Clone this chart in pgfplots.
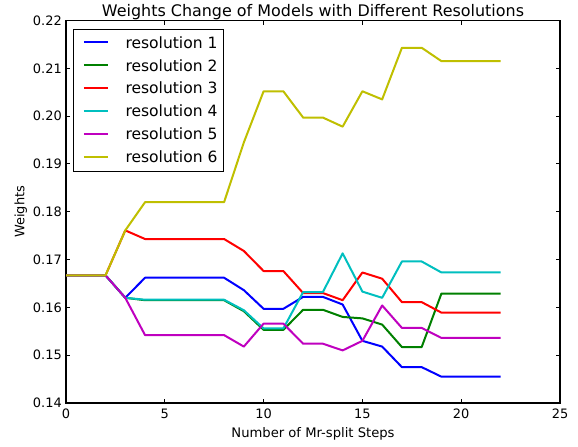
\documentclass[border=0pt]{standalone}
\usepackage{fontspec}
\setmainfont{DejaVu Sans}
\usepackage{pgfplots}
\pgfplotsset{compat=1.18}
\definecolor{mplb}{rgb}{0,0,1}
\definecolor{mplg}{rgb}{0,0.5,0}
\definecolor{mplr}{rgb}{1,0,0}
\definecolor{mplc}{rgb}{0,0.75,0.75}
\definecolor{mplm}{rgb}{0.75,0,0.75}
\definecolor{mply}{rgb}{0.75,0.75,0}
\begin{document}
\begin{tikzpicture}
\useasboundingbox (-66bp,-44bp) rectangle (512bp,403bp);
\begin{axis}[
  at={(0,0)}, anchor=south west,
  scale only axis, width=494bp, height=382.5bp,
  xmin=0, xmax=25, ymin=0.14, ymax=0.22,
  xtick={0,5,10,15,20,25},
  ytick={0.14,0.15,0.16,0.17,0.18,0.19,0.20,0.21,0.22},
  tick align=inside, tick pos=both,
  major tick length=4.4bp,
  every tick/.style={black, line width=1bp},
  axis line style={line width=1.1bp},
  /pgf/number format/assume math mode=true,
  yticklabel style={/pgf/number format/fixed, /pgf/number format/fixed zerofill, /pgf/number format/precision=2},
  tick label style={font=\fontsize{13}{15}\selectfont},
  xticklabel style={inner sep=0pt, anchor=north, yshift=-6bp},
  yticklabel style={inner sep=0pt, anchor=east, xshift=-4bp},
  scaled y ticks=false,
  every axis title shift=0pt,
  title={Weights Change of Models with Different Resolutions},
  title style={at={(axis description cs:0.5,1.01176)}, anchor=base, inner sep=0pt, font=\fontsize{16}{19}\selectfont},
  xlabel={Number of Mr-split Steps},
  xlabel style={at={(axis description cs:0.5,-0.0897)}, anchor=base, inner sep=0pt, font=\fontsize{13.2}{15}\selectfont},
  ylabel={Weights},
  ylabel style={at={(axis description cs:-0.0844,0.5)}, anchor=base, inner sep=0pt, font=\fontsize{13}{15}\selectfont},
  every axis plot/.append style={line width=2bp, line join=round},
  legend image code/.code={%
    \draw[#1] (0bp,6bp) -- (24.4bp,6bp);
    \path[draw=none,fill=none] (-6.85bp,-6.73bp) rectangle (38.55bp,16.13bp);},
  legend style={at={(axis description cs:0,1)}, anchor=north west,
    xshift=7.3bp, yshift=-8.8bp, draw=black, line width=1bp,
    inner xsep=3.15bp, inner ysep=2.27bp, row sep=0bp, column sep=0bp,
    font=\fontsize{15.6}{18}\selectfont,
    cells={anchor=base west},
    nodes={inner xsep=3.15bp, inner ysep=0bp}},
]
\addplot[mplb] coordinates {(0,0.1667)(1,0.1667)(2,0.1667)(3,0.1620)(4,0.1662)(5,0.1662)(6,0.1662)(7,0.1662)(8,0.1662)(9,0.1636)(10,0.1597)(11,0.1597)(12,0.1622)(13,0.1622)(14,0.1606)(15,0.1530)(16,0.1518)(17,0.1475)(18,0.1475)(19,0.1455)(20,0.1455)(21,0.1455)(22,0.1455)};
\addlegendentry{resolution 1}
\addplot[mplg] coordinates {(0,0.1667)(1,0.1667)(2,0.1667)(3,0.1620)(4,0.1615)(5,0.1615)(6,0.1615)(7,0.1615)(8,0.1615)(9,0.1592)(10,0.1553)(11,0.1553)(12,0.1595)(13,0.1595)(14,0.1580)(15,0.1577)(16,0.1564)(17,0.1517)(18,0.1517)(19,0.1629)(20,0.1629)(21,0.1629)(22,0.1629)};
\addlegendentry{resolution 2}
\addplot[mplr] coordinates {(0,0.1667)(1,0.1667)(2,0.1667)(3,0.1761)(4,0.1743)(5,0.1743)(6,0.1743)(7,0.1743)(8,0.1743)(9,0.1718)(10,0.1676)(11,0.1676)(12,0.1630)(13,0.1630)(14,0.1615)(15,0.1673)(16,0.1660)(17,0.1611)(18,0.1611)(19,0.1589)(20,0.1589)(21,0.1589)(22,0.1589)};
\addlegendentry{resolution 3}
\addplot[mplc] coordinates {(0,0.1667)(1,0.1667)(2,0.1667)(3,0.1620)(4,0.1616)(5,0.1616)(6,0.1616)(7,0.1616)(8,0.1616)(9,0.1594)(10,0.1556)(11,0.1556)(12,0.1632)(13,0.1632)(14,0.1713)(15,0.1633)(16,0.1620)(17,0.1696)(18,0.1696)(19,0.1673)(20,0.1673)(21,0.1673)(22,0.1673)};
\addlegendentry{resolution 4}
\addplot[mplm] coordinates {(0,0.1667)(1,0.1667)(2,0.1667)(3,0.1620)(4,0.1542)(5,0.1542)(6,0.1542)(7,0.1542)(8,0.1542)(9,0.1518)(10,0.1566)(11,0.1566)(12,0.1524)(13,0.1524)(14,0.1510)(15,0.1530)(16,0.1604)(17,0.1557)(18,0.1557)(19,0.1536)(20,0.1536)(21,0.1536)(22,0.1536)};
\addlegendentry{resolution 5}
\addplot[mply] coordinates {(0,0.1667)(1,0.1667)(2,0.1667)(3,0.1761)(4,0.1820)(5,0.1820)(6,0.1820)(7,0.1820)(8,0.1820)(9,0.1945)(10,0.2052)(11,0.2052)(12,0.1997)(13,0.1997)(14,0.1978)(15,0.2052)(16,0.2035)(17,0.2143)(18,0.2143)(19,0.2115)(20,0.2115)(21,0.2115)(22,0.2115)};
\addlegendentry{resolution 6}
\end{axis}
\end{tikzpicture}
\end{document}
